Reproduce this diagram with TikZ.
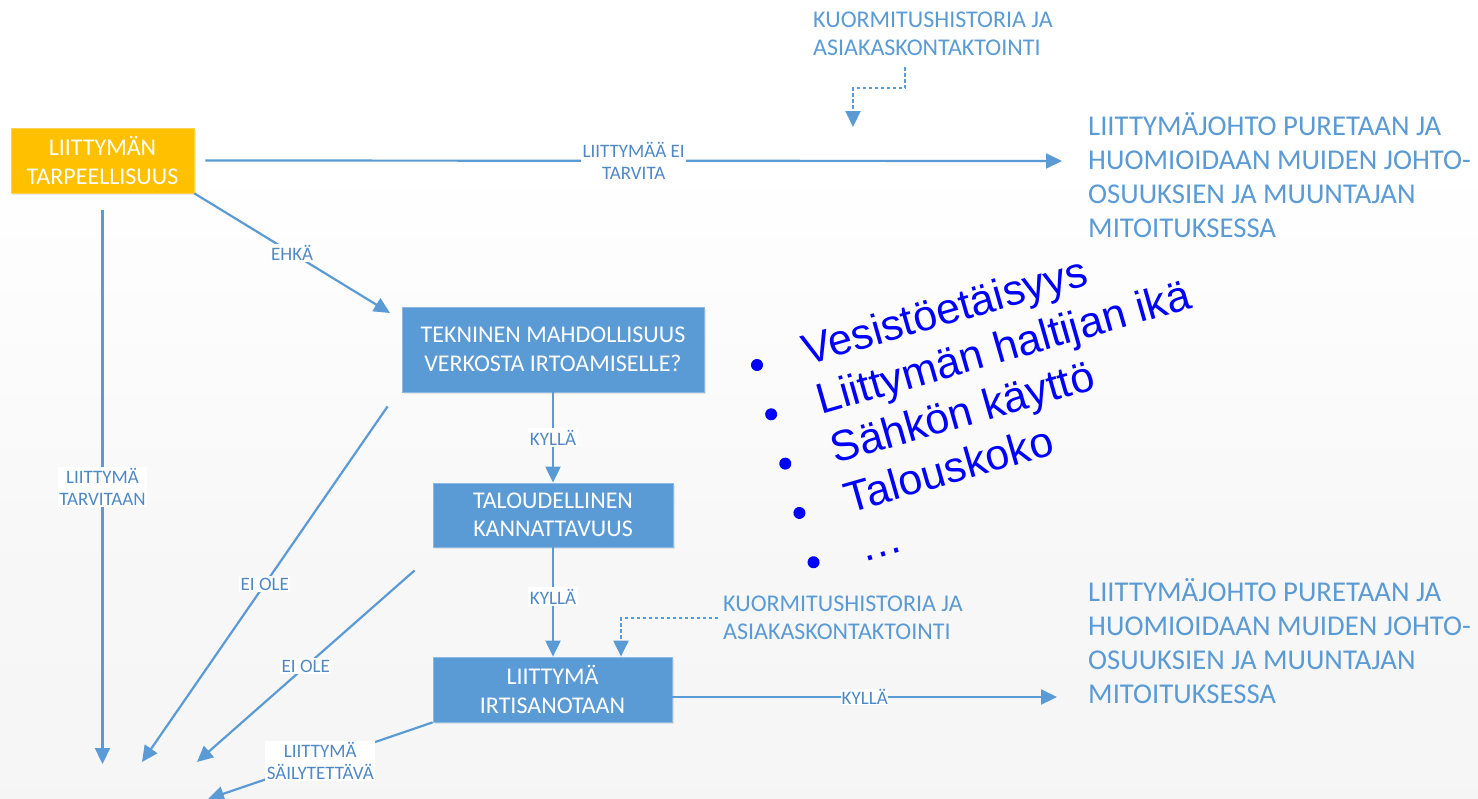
\documentclass[tikz,border=0pt]{standalone}
\usepackage{fontspec}
\setmainfont{Carlito}
\newfontfamily\arialfont{Liberation Sans}
\usetikzlibrary{arrows.meta,shadows}
\definecolor{flowblue}{HTML}{5B9BD5}
\definecolor{labelblue}{HTML}{4F88C6}
\definecolor{flowamber}{HTML}{FFC000}
\definecolor{listblue}{HTML}{0000FF}
% soft page background: white at the top, light grey towards the bottom
\pgfdeclareverticalshading{pagebg}{100bp}{color(0bp)=(black!5); color(40bp)=(black!3); color(65bp)=(white); color(100bp)=(white)}

\begin{document}
\begin{tikzpicture}[x=1pt, y=-1pt,
  box/.style={rectangle, fill=flowblue, draw=flowblue!70!white, line width=0.8pt,
    text=white, align=center, font=\fontsize{24}{28.5}\selectfont, inner sep=0pt,
    drop shadow={opacity=0.18, shadow xshift=1.5pt, shadow yshift=-2pt}},
  flow/.style={draw=flowblue, line width=2.2pt, -{Triangle[length=16pt,width=15pt]}},
  dashflow/.style={flow, dash pattern=on 3.5pt off 2.5pt},
  lbl/.style={fill=white, text=labelblue, font=\fontsize{19}{22}\selectfont,
    align=center, inner sep=1.5pt},
  note/.style={text=flowblue, align=left, inner sep=0pt},
  listitem/.style={anchor=base west, rotate=16, text=listblue, inner sep=0pt,
    font=\arialfont\fontsize{43}{51}\selectfont}
]
% page
\shade[shading=pagebg] (0,0) rectangle (1478,798);
\useasboundingbox (0,0) rectangle (1478,798);

% decision boxes
\node[box, fill=flowamber, draw=flowamber!70!white, minimum width=183pt, minimum height=65pt]
  (tarp) at (102.5,160.5) {LIITTYMÄN\\TARPEELLISUUS};
\node[box, minimum width=302pt, minimum height=85pt]
  (tekn) at (553,349.5) {TEKNINEN MAHDOLLISUUS\\VERKOSTA IRTOAMISELLE?};
\node[box, minimum width=240pt, minimum height=64pt]
  (talo) at (553,515) {TALOUDELLINEN\\KANNATTAVUUS};
\node[box, minimum width=239pt, minimum height=65pt]
  (irti) at (552.5,689.5) {LIITTYMÄ\\IRTISANOTAAN};

% outcome texts
\node[note, anchor=west, font=\fontsize{28.7}{34}\selectfont] (outTop) at (1088,175)
  {LIITTYMÄJOHTO PURETAAN JA\\HUOMIOIDAAN MUIDEN JOHTO-\\OSUUKSIEN JA MUUNTAJAN\\MITOITUKSESSA};
\node[note, anchor=west, font=\fontsize{28.7}{34}\selectfont] (outBot) at (1088,641)
  {LIITTYMÄJOHTO PURETAAN JA\\HUOMIOIDAAN MUIDEN JOHTO-\\OSUUKSIEN JA MUUNTAJAN\\MITOITUKSESSA};

% side notes
\node[note, anchor=west, font=\fontsize{24}{28}\selectfont] (kuormA) at (813,33.5)
  {KUORMITUSHISTORIA JA\\ASIAKASKONTAKTOINTI};
\node[note, anchor=west, font=\fontsize{24}{28}\selectfont] (kuormB) at (723,618)
  {KUORMITUSHISTORIA JA\\ASIAKASKONTAKTOINTI};

% free ends of connectors
\coordinate (topEnd) at (1062,161);
\coordinate (ehkaEnd) at (390,313);
\coordinate (sinkA) at (102.5,764);
\coordinate (sinkB) at (142,762);
\coordinate (sinkC) at (197,762);
\coordinate (sinkD) at (208,799);
\coordinate (botEnd) at (1057,697);
\coordinate (kuormAstart) at (905,67);
\coordinate (dropTop) at (853,127);

% connectors
\draw[flow] ([xshift=11pt]tarp.east) -- node[lbl]{LIITTYMÄÄ EI\\TARVITA} (topEnd);
\draw[flow] (tarp.south east) -- node[lbl]{EHKÄ} (ehkaEnd);
\draw[flow] ([yshift=-17pt]tarp.south) -- node[lbl]{LIITTYMÄ\\TARVITAAN} (sinkA);
\draw[flow] ([xshift=-14pt,yshift=-14pt]tekn.south west) -- node[lbl]{EI OLE} (sinkB);
\draw[flow] ([xshift=-18pt,yshift=-23pt]talo.south west) -- node[lbl]{EI OLE} (sinkC);
\draw[flow] (irti.south west) -- node[lbl]{LIITTYMÄ\\SÄILYTETTÄVÄ} (sinkD);
\draw[flow] (tekn.south) -- node[lbl]{KYLLÄ} (tekn.south |- talo.north);
\draw[flow] (talo.south) -- node[lbl, pos=0.45]{KYLLÄ} (talo.south |- irti.north);
\draw[flow] ([yshift=-7.5pt]irti.east) -- node[lbl, inner sep=0.5pt]{KYLLÄ} (botEnd);
\draw[dashflow] (kuormAstart) -- ++(0,21) -| (dropTop);
\draw[dashflow] ([xshift=-5pt]kuormB.west) -| ([xshift=68.5pt]irti.north);

% tilted list of criteria
\begin{scope}[shift={(757,365)}, rotate=16]
  \foreach \i/\txt in {0/Vesistöetäisyys, 1/Liittymän haltijan ikä, 2/Sähkön käyttö, 3/Talouskoko, 4/…}{
    \fill[listblue] (0,51.3*\i) circle (6pt);
    \node[listitem] (item\i) at (48,51.3*\i+14) {\txt};
  }
\end{scope}
\end{tikzpicture}
\end{document}
